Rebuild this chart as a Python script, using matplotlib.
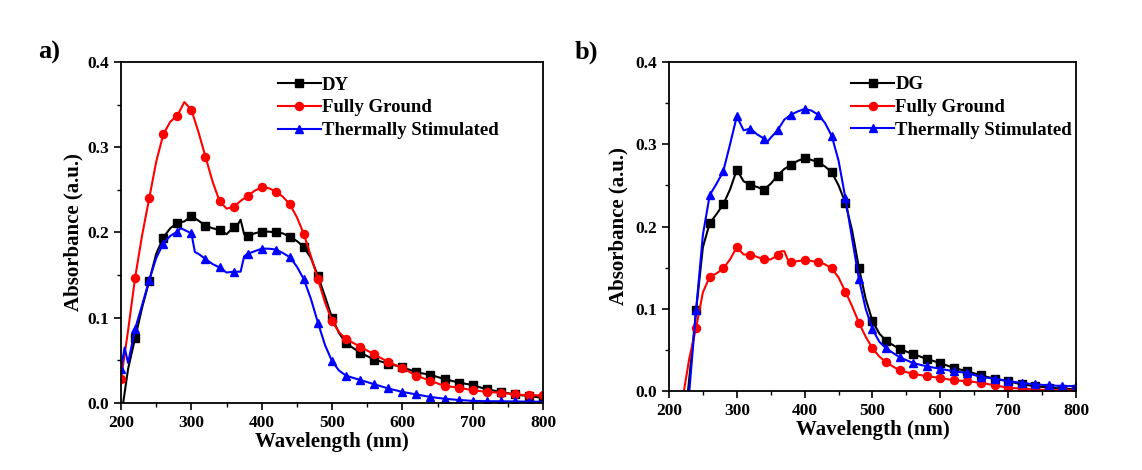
import numpy as np
import matplotlib
matplotlib.use("Agg")
import matplotlib.pyplot as plt
from matplotlib.ticker import MultipleLocator

plt.rcParams["font.family"] = ["Liberation Serif", "DejaVu Serif"]
plt.rcParams["font.weight"] = "bold"

# ---- panel a ----
a_dy_x = [203, 210, 220, 230, 240, 250, 260, 270, 280, 290, 300, 310, 320, 330, 340, 350, 360, 365, 370,
          375, 380, 390, 400, 410, 420, 430, 440, 450, 460, 470, 480, 490, 500, 510, 520, 540, 560, 580,
          600, 620, 640, 660, 680, 700, 720, 740, 760, 780, 800]
a_dy_y = [0.000, 0.040, 0.076, 0.112, 0.143, 0.175, 0.194, 0.205, 0.211, 0.213, 0.219, 0.214, 0.208, 0.205,
          0.203, 0.198, 0.206, 0.208, 0.215, 0.198, 0.196, 0.199, 0.201, 0.201, 0.200, 0.199, 0.195, 0.190,
          0.183, 0.170, 0.149, 0.125, 0.100, 0.082, 0.070, 0.059, 0.051, 0.046, 0.042, 0.036, 0.033, 0.028,
          0.024, 0.021, 0.016, 0.013, 0.010, 0.008, 0.006]

a_fg_x = [200, 210, 220, 230, 240, 250, 260, 270, 280, 290, 300, 310, 320, 330, 340, 350, 360, 370, 380,
          390, 400, 410, 420, 430, 440, 450, 460, 470, 480, 490, 500, 510, 520, 540, 560, 580, 600, 620,
          640, 660, 680, 700, 720, 740, 760, 780, 800]
a_fg_y = [0.028, 0.085, 0.147, 0.197, 0.240, 0.283, 0.315, 0.330, 0.337, 0.353, 0.344, 0.318, 0.289, 0.260,
          0.237, 0.228, 0.230, 0.237, 0.243, 0.249, 0.253, 0.252, 0.248, 0.242, 0.233, 0.218, 0.198, 0.172,
          0.145, 0.118, 0.096, 0.083, 0.075, 0.066, 0.057, 0.048, 0.041, 0.032, 0.026, 0.020, 0.018, 0.015,
          0.013, 0.012, 0.010, 0.009, 0.009]

a_ts_x = [200, 205, 210, 220, 230, 240, 250, 260, 270, 280, 285, 300, 305, 310, 320, 330, 340, 350, 360,
          370, 375, 380, 390, 400, 410, 420, 430, 440, 450, 460, 470, 480, 490, 500, 510, 520, 540, 560,
          580, 600, 620, 640, 660, 680, 700, 720, 740, 760, 780, 800]
a_ts_y = [0.040, 0.065, 0.047, 0.087, 0.115, 0.144, 0.170, 0.187, 0.196, 0.201, 0.205, 0.199, 0.177, 0.175,
          0.169, 0.163, 0.159, 0.153, 0.154, 0.154, 0.172, 0.175, 0.178, 0.181, 0.181, 0.180, 0.176, 0.171,
          0.160, 0.145, 0.122, 0.094, 0.068, 0.049, 0.038, 0.032, 0.027, 0.022, 0.017, 0.013, 0.010, 0.007,
          0.005, 0.0035, 0.0025, 0.002, 0.002, 0.0018, 0.0016, 0.0015]

# ---- panel b ----
b_dg_x = [228, 240, 250, 260, 270, 280, 290, 300, 310, 320, 330, 340, 350, 360, 370, 380, 390, 400, 410,
          420, 430, 440, 450, 460, 470, 480, 490, 500, 510, 520, 540, 560, 580, 600, 620, 640, 660, 680,
          700, 720, 740, 760, 780, 800]
b_dg_y = [0.000, 0.098, 0.175, 0.204, 0.215, 0.227, 0.245, 0.269, 0.255, 0.251, 0.248, 0.245, 0.252, 0.262,
          0.270, 0.275, 0.280, 0.283, 0.281, 0.278, 0.273, 0.266, 0.250, 0.229, 0.195, 0.150, 0.112, 0.085,
          0.070, 0.061, 0.051, 0.045, 0.039, 0.034, 0.028, 0.024, 0.019, 0.015, 0.012, 0.008, 0.006, 0.004,
          0.003, 0.002]

b_fg_x = [222, 230, 240, 250, 260, 270, 280, 290, 300, 310, 320, 330, 340, 350, 360, 365, 370, 375, 380,
          390, 400, 410, 420, 430, 440, 450, 460, 470, 480, 490, 500, 510, 520, 540, 560, 580, 600, 620,
          640, 660, 680, 700, 720, 740, 760, 780, 800]
b_fg_y = [0.000, 0.040, 0.077, 0.120, 0.139, 0.143, 0.149, 0.160, 0.175, 0.166, 0.166, 0.163, 0.160, 0.160,
          0.165, 0.170, 0.170, 0.160, 0.157, 0.158, 0.159, 0.158, 0.157, 0.154, 0.149, 0.138, 0.121, 0.103,
          0.083, 0.066, 0.052, 0.042, 0.035, 0.025, 0.021, 0.018, 0.016, 0.013, 0.012, 0.010, 0.007, 0.004,
          0.003, 0.002, 0.001, 0.001, 0.001]

b_ts_x = [230, 240, 250, 260, 270, 280, 290, 300, 310, 320, 330, 340, 345, 350, 360, 370, 380, 390, 400,
          410, 420, 430, 440, 450, 460, 470, 480, 490, 500, 510, 520, 540, 560, 580, 600, 620, 640, 660,
          680, 700, 720, 740, 760, 780, 800]
b_ts_y = [0.000, 0.099, 0.190, 0.238, 0.252, 0.267, 0.300, 0.334, 0.317, 0.319, 0.312, 0.307, 0.303, 0.308,
          0.317, 0.330, 0.336, 0.340, 0.343, 0.341, 0.336, 0.326, 0.310, 0.280, 0.235, 0.185, 0.136, 0.100,
          0.075, 0.060, 0.052, 0.041, 0.034, 0.030, 0.027, 0.024, 0.022, 0.017, 0.015, 0.012, 0.010, 0.008,
          0.007, 0.006, 0.006]

panels = [
    ("a)", [("DY", a_dy_x, a_dy_y, "black", "s"),
            ("Fully Ground", a_fg_x, a_fg_y, "#ff0000", "o"),
            ("Thermally Stimulated", a_ts_x, a_ts_y, "#0000ff", "^")]),
    ("b)", [("DG", b_dg_x, b_dg_y, "black", "s"),
            ("Fully Ground", b_fg_x, b_fg_y, "#ff0000", "o"),
            ("Thermally Stimulated", b_ts_x, b_ts_y, "#0000ff", "^")]),
]

fig = plt.figure(figsize=(11.42, 4.70), dpi=100)
ax_rects = [[0.106, 0.1426, 0.3695, 0.7255], [0.5858, 0.168, 0.3564, 0.700]]
leg_x = [0.349, 0.425]
tag_x = [0.033, 0.503]
ylab_pad = [3, 5]

for i, (tag, series) in enumerate(panels):
    ax = fig.add_axes(ax_rects[i])
    for name, xs, ys, color, marker in series:
        xs = np.array(xs)
        ax.plot(xs, ys, color=color, lw=1.5, marker=marker, ms=5.8,
                markevery=list(np.where(xs % 20 == 0)[0]), label=name)
    ax.set_xlim(200, 800)
    ax.set_ylim(0, 0.4)
    ax.xaxis.set_major_locator(MultipleLocator(100))
    ax.xaxis.set_minor_locator(MultipleLocator(50))
    ax.yaxis.set_major_locator(MultipleLocator(0.1))
    ax.yaxis.set_minor_locator(MultipleLocator(0.05))
    ax.tick_params(which="major", direction="out", length=5, width=1.2, labelsize=12.5)
    ax.tick_params(which="minor", direction="out", length=3, width=1.0)
    ax.yaxis.set_major_formatter(plt.FormatStrFormatter("%.1f"))
    for sp in ax.spines.values():
        sp.set_linewidth(1.3)
    ax.set_xlabel("Wavelength (nm)", fontsize=15, fontweight="bold", labelpad=1)
    ax.set_ylabel("Absorbance (a.u.)", fontsize=15, fontweight="bold", labelpad=ylab_pad[i])
    ax.legend(loc="upper left", bbox_to_anchor=(leg_x[i], 0.985), frameon=False,
              handlelength=2.3, handletextpad=0.05, borderpad=0,
              labelspacing=0.3, prop={"weight": "bold", "size": 13.5})
    fig.text(tag_x[i], 0.889, tag, fontsize=19, fontweight="bold", va="center")

fig.savefig("out.png", dpi=100)
